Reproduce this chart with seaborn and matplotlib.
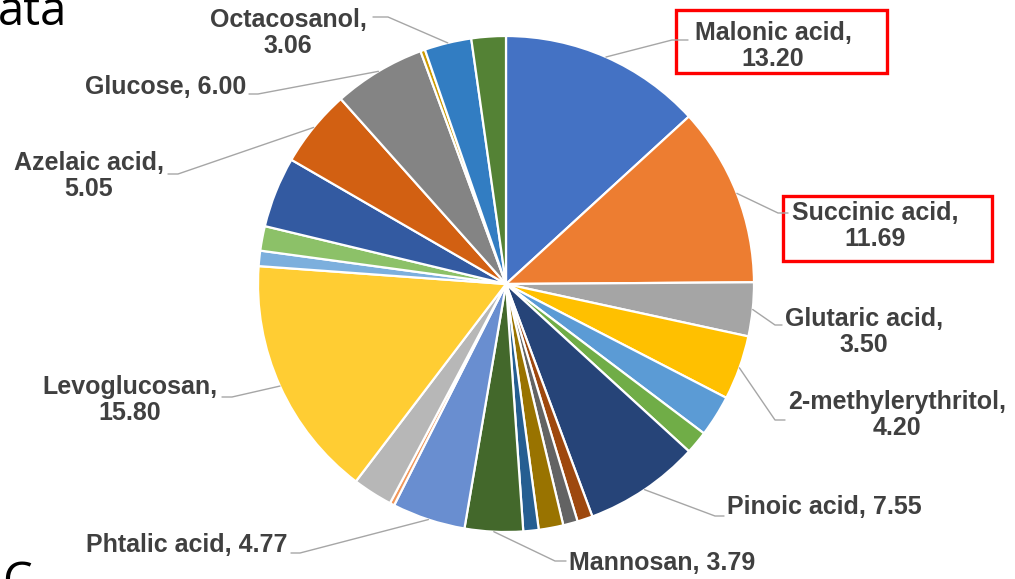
import numpy as np
import seaborn as sns
import matplotlib.pyplot as plt
from matplotlib.lines import Line2D
from matplotlib.patches import Rectangle

# 조성 데이터 (%), 12시 방향부터 시계 방향
compounds = ['Malonic acid', 'Succinic acid', 'Glutaric acid', '2-methylerythritol',
             None, None, 'Pinoic acid', None, None, None, None, 'Mannosan',
             'Phtalic acid', None, None, 'Levoglucosan', None, None, None,
             'Azelaic acid', 'Glucose', None, 'Octacosanol', None]
shares = [13.20, 11.69, 3.50, 4.20,
          2.70, 1.50, 7.55, 1.00, 0.95, 1.60, 1.00, 3.79,
          4.77, 0.30, 2.60, 15.80, 1.00, 1.60, 4.60,
          5.05, 6.00, 0.30, 3.06, 2.24]
colors = ['#4472C4', '#ED7D31', '#A5A5A5', '#FFC000', '#5B9BD5', '#70AD47',
          '#264478', '#9E480E', '#636363', '#997300', '#255E91', '#43682B',
          '#698ED0', '#F1975A', '#B7B7B7', '#FFCD33', '#7CAFDD', '#8CC168',
          '#335AA1', '#D26012', '#848484', '#CC9A00', '#327DC2', '#548235']

W, H = 1015, 579
sns.set_theme(style='white')
plt.rcParams['font.family'] = ['Liberation Sans', 'DejaVu Sans']

fig = plt.figure(figsize=(W / 100, H / 100), dpi=100)
cx, cy, r = 506, 284, 248
ax = fig.add_axes([(cx - r) / W, (H - cy - r) / H, 2 * r / W, 2 * r / H])
wedges, _ = ax.pie(shares, colors=colors, startangle=90, counterclock=False,
                   radius=1.0, wedgeprops=dict(edgecolor='white', linewidth=1.6))
ax.set_xlim(-1, 1)
ax.set_ylim(-1, 1)
ax.set_aspect('equal')
ax.axis('off')


def fp(x, y):
    # 좌상단 기준 픽셀 -> figure 좌표
    return x / W, 1 - y / H


# 라벨 위치 (텍스트 중심/앵커, 리더선 꺾임점, 끝점) - 픽셀
layout = {
    'Octacosanol': dict(text='Octacosanol,\n3.06', pos=(288, 33), ha='center', elbow=(388, 17), end=(373, 17)),
    'Malonic acid': dict(text='Malonic acid,\n13.20', pos=(773, 46), ha='center', elbow=(672, 40), end=(688, 40)),
    'Succinic acid': dict(text='Succinic acid,\n11.69', pos=(875, 226), ha='center', elbow=(778, 213), end=(788, 213)),
    'Glutaric acid': dict(text='Glutaric acid,\n3.50', pos=(864, 332), ha='center', elbow=(775, 325), end=(782, 325)),
    '2-methylerythritol': dict(text='2-methylerythritol,\n4.20', pos=(897, 415), ha='center', elbow=(775, 420), end=(785, 420)),
    'Pinoic acid': dict(text='Pinoic acid, 7.55', pos=(727, 507), ha='left', elbow=(715, 516), end=(724, 516)),
    'Mannosan': dict(text='Mannosan, 3.79', pos=(569, 563), ha='left', elbow=(555, 561), end=(566, 561)),
    'Phtalic acid': dict(text='Phtalic acid, 4.77', pos=(288, 545), ha='right', elbow=(300, 553), end=(291, 553)),
    'Levoglucosan': dict(text='Levoglucosan,\n15.80', pos=(130, 400), ha='center', elbow=(232, 397), end=(222, 397)),
    'Azelaic acid': dict(text='Azelaic acid,\n5.05', pos=(89, 176), ha='center', elbow=(178, 174), end=(168, 174)),
    'Glucose': dict(text='Glucose, 6.00', pos=(246, 87), ha='right', elbow=(258, 94), end=(249, 94)),
}

text_color = '#404040'
line_color = '#A6A6A6'
inv = fig.transFigure.inverted()

for name, w in zip(compounds, wedges):
    if name is None:
        continue
    spec = layout[name]
    mid = np.deg2rad((w.theta1 + w.theta2) / 2)
    start = inv.transform(ax.transData.transform((np.cos(mid), np.sin(mid))))
    ex, ey = fp(*spec['elbow'])
    tx, ty = fp(*spec['end'])
    fig.add_artist(Line2D([start[0], ex, tx], [start[1], ey, ty],
                          transform=fig.transFigure, color=line_color, lw=1.0))
    px, py = fp(*spec['pos'])
    fig.text(px, py, spec['text'], ha=spec['ha'], va='center', multialignment='center',
             fontsize=18, fontweight='bold', color=text_color, linespacing=1.1)

# 강조 박스
for x0, y0, x1, y1 in [(676, 10, 887, 73), (783, 196, 992, 261)]:
    bx, by = fp(x0, y1)
    fig.add_artist(Rectangle((bx, by), (x1 - x0) / W, (y1 - y0) / H, transform=fig.transFigure,
                             fill=False, edgecolor='#FF0000', lw=2.4))

# 슬라이드에서 잘린 글자
fig.text(-0.002, 1 - 25 / H, 'ata', va='baseline', ha='left', fontsize=34,
         family=['Open Sans', 'DejaVu Sans'], color='black')
fig.text(0.002, -17 / H, 'C', va='baseline', ha='left', fontsize=34,
         family=['Open Sans', 'DejaVu Sans'], color='black')

fig.savefig('out.png', dpi=100)
